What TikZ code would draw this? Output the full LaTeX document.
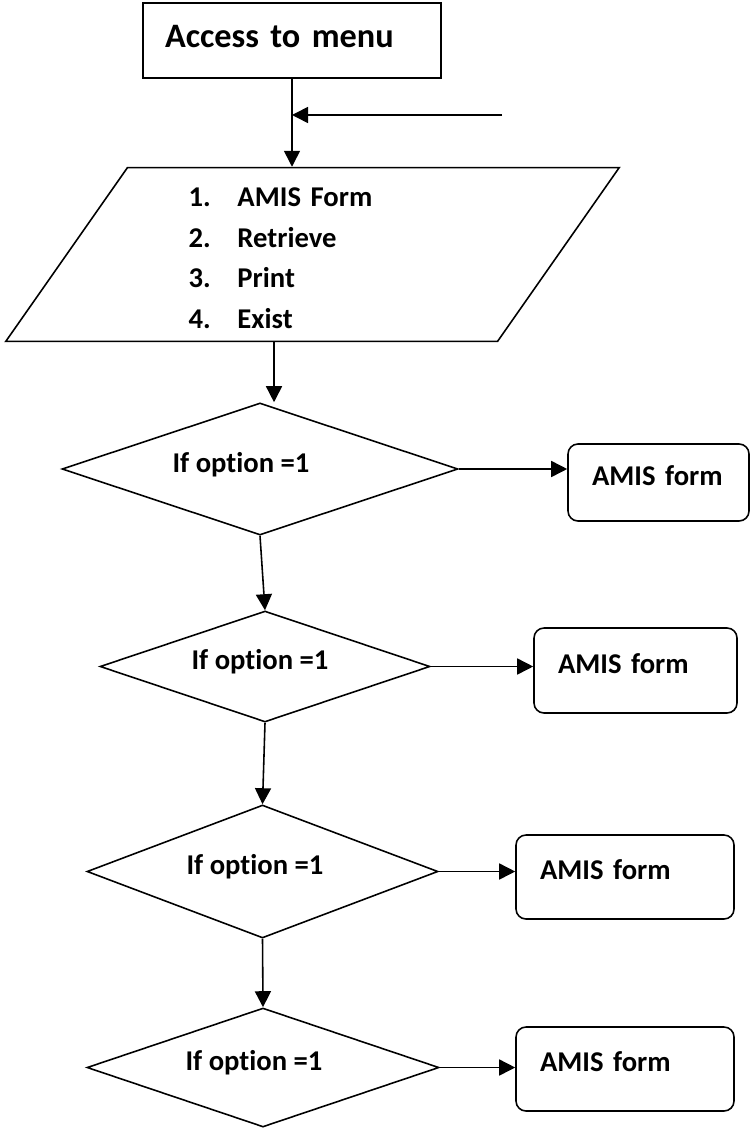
\documentclass[tikz,border=0pt]{standalone}
\usepackage{fontspec}
\setmainfont{Carlito}[Ligatures=NoCommon]
\usetikzlibrary{arrows.meta, positioning, shapes.geometric}

\begin{document}
\begin{tikzpicture}[x=0.2mm, y=-0.2mm, line width=0.9pt,
    >={Triangle[length=3.2mm, width=3.2mm]},
    titlebox/.style={draw, minimum width=59.6mm, minimum height=15mm, inner xsep=4.4mm,
        text width=50.8mm, align=left, text depth=5pt, font=\bfseries\fontsize{19.5}{23}\selectfont},
    menubox/.style={draw, trapezium, trapezium left angle=55, trapezium right angle=125,
        inner xsep=12.2mm, inner ysep=2.5mm, text width=49.6mm, align=left,
        font=\bfseries\fontsize{16.3}{23.2}\selectfont},
    decision/.style={draw, diamond, aspect=2.5, inner sep=0pt, text depth=7.5pt,
        font=\bfseries\fontsize{16.3}{19}\selectfont},
    formbox/.style={draw, rounded corners=2mm, inner xsep=4.8mm, align=left, text depth=8pt,
        font=\bfseries\fontsize{16.3}{19}\selectfont}]
    \useasboundingbox (0,0) rectangle (750,1129);
    % start and menu
    \node[titlebox] (title) at (292,40.5) {Access to menu};
    \node[menubox] (menu) at (312.5,254.5)
        {\rule{0pt}{15pt}\makebox[9.8mm][l]{1.}AMIS Form\\ \makebox[9.8mm][l]{2.}Retrieve\\
         \makebox[9.8mm][l]{3.}Print\\ \makebox[9.8mm][l]{4.}Exist};
    \coordinate (feed) at (502,115);
    \draw[->] (title.south) -- (title.south |- menu.north);
    \draw[->] (feed) -- (title.south |- feed);
    % decisions
    \node[decision, minimum width=79.2mm, minimum height=26.4mm] (d1) at (260,469) {If option =1\kern7.6mm};
    \node[decision, minimum width=66mm, minimum height=22.2mm] (d2) at (265,666.5) {If option =1\kern2mm};
    \node[decision, minimum width=70.2mm, minimum height=26.6mm] (d3) at (262.5,871.5) {If option =1\kern3mm};
    \node[decision, minimum width=70.4mm, minimum height=23.8mm] (d4) at (263,1067.5) {If option =1\kern3.6mm};
    % forms
    \node[formbox, minimum width=36.2mm, minimum height=15.4mm, text width=26.6mm] (f1) at (658.5,482.5) {AMIS~form};
    \node[formbox, minimum width=40.6mm, minimum height=17mm, text width=31mm] (f2) at (635.5,670.5) {AMIS~form};
    \node[formbox, minimum width=43.6mm, minimum height=16.8mm, text width=34mm] (f3) at (625,877) {AMIS~form};
    \node[formbox, minimum width=43.6mm, minimum height=16.8mm, text width=34mm] (f4) at (625,1069) {AMIS~form};
    % connectors
    \draw[->] ([xshift=-7.7mm]menu.south) -- ([xshift=-7.7mm]menu.south |- d1.north);
    \draw[->] (d1.south) -- (d2.north);
    \draw[->] (d2.south) -- (d3.north);
    \draw[->] (d3.south) -- (d4.north);
    \draw[->] (d1.east) -- (d1.east -| f1.west);
    \draw[->] (d2.east) -- (d2.east -| f2.west);
    \draw[->] (d3.east) -- (d3.east -| f3.west);
    \draw[->] (d4.east) -- (d4.east -| f4.west);
\end{tikzpicture}
\end{document}
